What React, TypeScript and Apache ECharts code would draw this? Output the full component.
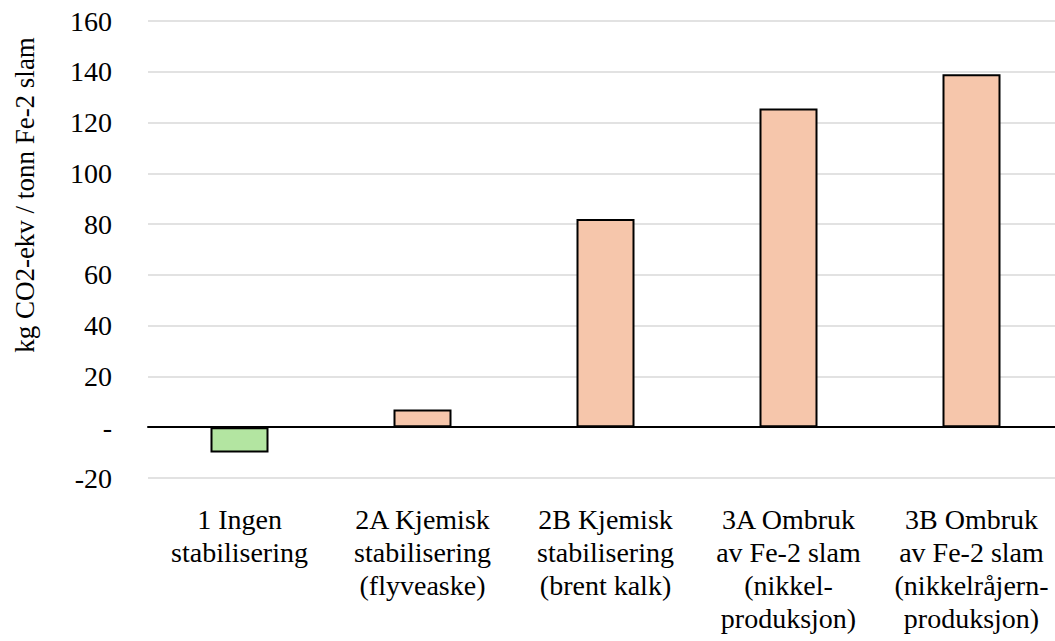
import React, { useEffect, useRef } from "react";
import * as echarts from "echarts";

const categories = [
  "1 Ingen\nstabilisering",
  "2A Kjemisk\nstabilisering\n(flyveaske)",
  "2B Kjemisk\nstabilisering\n(brent kalk)",
  "3A Ombruk\nav Fe-2 slam\n(nikkel-\nproduksjon)",
  "3B Ombruk\nav Fe-2 slam\n(nikkelråjern-\nproduksjon)",
];
const values = [-10, 7, 82, 125.5, 139];
const barColors = ["#b3e5a1", "#f6c6ab", "#f6c6ab", "#f6c6ab", "#f6c6ab"];
const yAxisName = "kg CO2-ekv / tonn Fe-2 slam";

const FONT = "Liberation Serif";

export default function App() {
  const ref = useRef<HTMLDivElement>(null);
  useEffect(() => {
    if (!ref.current) return;
    const chart = echarts.init(ref.current, undefined, { renderer: "svg" });
    chart.setOption({
      animation: false,
      backgroundColor: "#ffffff",
      textStyle: { fontFamily: FONT },
      grid: { left: 148, right: 0, top: 21, bottom: 163, containLabel: false },
      xAxis: {
        type: "category",
        data: categories,
        axisLine: { onZero: true, lineStyle: { color: "#000000", width: 2 } },
        axisTick: { show: false },
        axisLabel: {
          interval: 0,
          margin: 25,
          fontFamily: FONT,
          fontSize: 28,
          lineHeight: 33,
          color: "#000000",
        },
      },
      yAxis: {
        type: "value",
        min: -20,
        max: 160,
        interval: 20,
        axisLine: { show: false },
        axisTick: { show: false },
        splitLine: { lineStyle: { color: "#d9d9d9", width: 1.5 } },
        axisLabel: {
          margin: 36,
          fontFamily: FONT,
          fontSize: 28,
          color: "#000000",
          formatter: (v: number) => (v === 0 ? "-" : String(v)),
        },
      },
      graphic: [
        {
          type: "text",
          x: 25,
          y: 195,
          rotation: Math.PI / 2,
          style: {
            text: yAxisName,
            fontFamily: FONT,
            fontSize: 27,
            fill: "#000000",
            textAlign: "center",
            textVerticalAlign: "middle",
          },
        },
      ],
      series: [
        {
          type: "bar",
          barWidth: 58,
          data: values.map((v, i) => ({
            value: v,
            itemStyle: { color: barColors[i] },
          })),
          itemStyle: { borderColor: "#000000", borderWidth: 2 },
        },
      ],
    });
    return () => chart.dispose();
  }, []);
  return (
    <div style={{ position: "fixed", left: 0, top: 0, width: 1055, height: 641, overflow: "hidden", background: "#fff" }}>
      <div ref={ref} style={{ width: 1063, height: 641 }} />
    </div>
  );
}
